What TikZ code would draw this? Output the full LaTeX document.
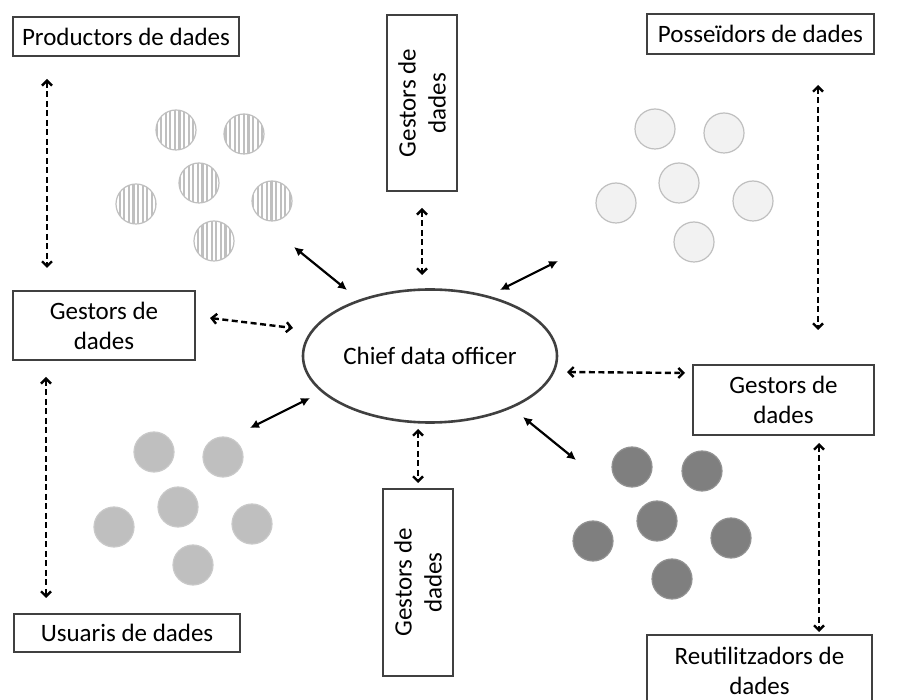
\documentclass[tikz,border=0pt]{standalone}
\usepackage{fontspec}
\setmainfont{Carlito}
\usetikzlibrary{arrows.meta,shapes.geometric,patterns.meta}

\definecolor{lightDot}{HTML}{F2F2F2}
\definecolor{midDot}{HTML}{BFBFBF}
\definecolor{darkDot}{HTML}{7F7F7F}
\definecolor{lineGray}{HTML}{404040}

\begin{document}
\begin{tikzpicture}[x=1pt,y=-1pt,
	dataBox/.style={draw=lineGray, line width=1.2pt, inner sep=0pt, align=center,
		font=\fontsize{25}{30}\selectfont},
	upBox/.style={dataBox, rotate=90, minimum height=70pt},
	officeShape/.style={ellipse, draw=lineGray, line width=2.6pt, inner sep=0pt,
		minimum width=254pt, minimum height=133pt, font=\fontsize{25}{30}\selectfont},
	dotShape/.style={circle, inner sep=0pt, minimum size=40pt, line width=1.2pt},
	stripeDot/.style={dotShape, draw=midDot, fill=white,
		pattern={Lines[angle=90,distance=4.6pt,line width=2.2pt]}, pattern color=midDot},
	lightDotShape/.style={dotShape, draw=midDot, fill=lightDot},
	midDotShape/.style={dotShape, draw=midDot!85, fill=midDot},
	darkDotShape/.style={dotShape, draw=darkDot!85, fill=darkDot},
	dashArrow/.style={line width=2.4pt, dash pattern=on 6pt off 3.5pt,
		{Straight Barb[length=5pt,width=10pt,line width=2.4pt]}-{Straight Barb[length=5pt,width=10pt,line width=2.4pt]}},
	solidArrow/.style={line width=2.2pt, {Latex[length=9pt,width=9pt]}-{Latex[length=9pt,width=9pt]}}]
\useasboundingbox (0,0) rectangle (922,700);

	\node[dataBox, minimum width=226pt, minimum height=39pt] (prod) at (126,36.5) {Productors de dades};
	\node[dataBox, minimum width=182pt, minimum height=69pt] (gestLeft) at (104,325.5) {Gestors de\\dades};
	\node[dataBox, minimum width=226pt, minimum height=38pt] (usu) at (127,633) {Usuaris de dades};
	\node[upBox, minimum width=176pt] (gestTop) at (422,103) {Gestors de\\dades};
	\node[upBox, minimum width=187pt] (gestBottom) at (418,582.5) {Gestors de\\dades};
	\node[dataBox, minimum width=227pt, minimum height=40pt] (poss) at (760.5,34) {Posseïdors de dades};
	\node[dataBox, minimum width=181pt, minimum height=70pt] (gestRight) at (783.5,400) {Gestors de\\dades};
	\node[dataBox, minimum width=225pt, minimum height=72pt] (reut) at (759.5,671) {Reutilitzadors de\\dades};
	\node[officeShape] (cdo) at (430,356) {Chief data officer};

	\foreach \px/\py [count=\i] in {176/130, 244/134, 199/183, 136/204, 272/201, 214/241}
		\node[stripeDot] (prodDot\i) at (\px,\py) {};
	\foreach \px/\py [count=\i] in {655/129, 724/133, 679/183, 616/203, 753/201, 694/242}
		\node[lightDotShape] (possDot\i) at (\px,\py) {};
	\foreach \px/\py [count=\i] in {154/452, 223/457, 178/507, 114/527, 252/524, 193/565}
		\node[midDotShape] (usuDot\i) at (\px,\py) {};
	\foreach \px/\py [count=\i] in {632/467, 702/471, 657/521, 593/541, 731/538, 672/579}
		\node[darkDotShape] (reutDot\i) at (\px,\py) {};

	\coordinate (prodEnd) at (47,79);
	\coordinate (gestLeftTop) at (47,268);
	\coordinate (gestLeftBottom) at (46,377);
	\coordinate (usuEnd) at (46,598);
	\coordinate (gestLeftOut) at (210,318);
	\coordinate (cdoLeft) at (293,328);
	\coordinate (gestTopEnd) at (422,208);
	\coordinate (cdoTop) at (422,275);
	\coordinate (cdoBottom) at (418,429);
	\coordinate (gestBottomEnd) at (418,483);
	\coordinate (cdoRight) at (567,372);
	\coordinate (gestRightOut) at (685,373);
	\coordinate (possEnd) at (818,85);
	\coordinate (gestRightTop) at (818,330);
	\coordinate (gestRightBottom) at (819,443);
	\coordinate (reutEnd) at (819,632);
	\coordinate (prodGroup) at (294,247);
	\coordinate (cdoNW) at (347,290);
	\coordinate (possGroup) at (558,261);
	\coordinate (cdoNE) at (500,290);
	\coordinate (usuGroup) at (250,428);
	\coordinate (cdoSW) at (310,398);
	\coordinate (reutGroup) at (576,460);
	\coordinate (cdoSE) at (523,417);

	\draw[dashArrow] (prodEnd) -- (gestLeftTop);
	\draw[dashArrow] (gestLeftBottom) -- (usuEnd);
	\draw[dashArrow] (gestLeftOut) -- (cdoLeft);
	\draw[dashArrow] (gestTopEnd) -- (cdoTop);
	\draw[dashArrow] (cdoBottom) -- (gestBottomEnd);
	\draw[dashArrow] (cdoRight) -- (gestRightOut);
	\draw[dashArrow] (possEnd) -- (gestRightTop);
	\draw[dashArrow] (gestRightBottom) -- (reutEnd);
	\draw[solidArrow] (prodGroup) -- (cdoNW);
	\draw[solidArrow] (cdoNE) -- (possGroup);
	\draw[solidArrow] (usuGroup) -- (cdoSW);
	\draw[solidArrow] (cdoSE) -- (reutGroup);
\end{tikzpicture}
\end{document}
